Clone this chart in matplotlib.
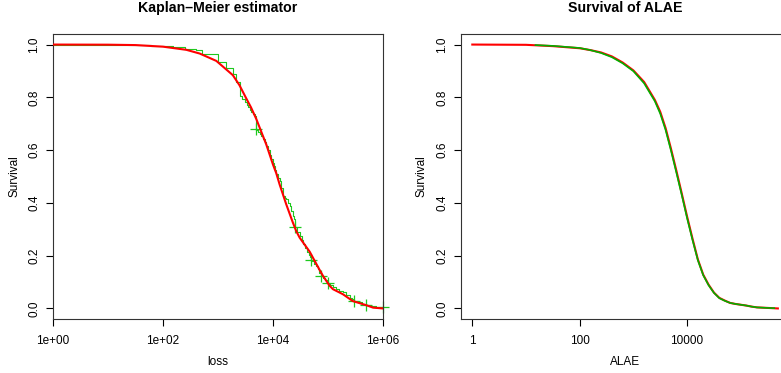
import matplotlib
matplotlib.use("Agg")
import matplotlib.pyplot as plt
import numpy as np

plt.rcParams['font.family'] = ['Liberation Sans', 'DejaVu Sans']

# ---- Left panel: Kaplan-Meier estimator of loss ----
km_time = [1, 10, 30, 60, 100, 150, 250, 400, 512, 1000, 1420, 1870, 2100, 2480,
           2750, 3050, 3300, 3510, 3800, 4050, 4400, 4700, 5000, 5400, 5800, 6150,
           6600, 7100, 7590, 8100, 8700, 9350, 9900, 10430, 11000, 11530, 12400,
           13240, 14200, 15200, 16300, 17530, 18800, 20140, 21600, 23100, 24000,
           25000, 27500, 30570, 33000, 35100, 38500, 42000, 45000, 47000, 50000,
           55000, 61500, 66000, 70000, 75000, 82000, 90000, 100000, 110000,
           123000, 140000, 160000, 187000, 215000, 250000, 275000, 300000,
           350000, 420000, 500000, 600000, 760000, 1000000]
km_surv = [1.0, 0.999, 0.998, 0.996, 0.994, 0.990, 0.985, 0.980, 0.965, 0.935,
           0.913, 0.888, 0.857, 0.806, 0.795, 0.781, 0.770, 0.762, 0.752, 0.743,
           0.736, 0.730, 0.675, 0.668, 0.661, 0.654, 0.642, 0.630, 0.616, 0.600,
           0.583, 0.566, 0.553, 0.540, 0.525, 0.509, 0.496, 0.483, 0.455, 0.427,
           0.420, 0.414, 0.401, 0.389, 0.370, 0.351, 0.340, 0.307, 0.291, 0.275,
           0.258, 0.245, 0.230, 0.215, 0.203, 0.195, 0.180, 0.170, 0.161, 0.148,
           0.136, 0.124, 0.114, 0.106, 0.098, 0.088, 0.080, 0.073, 0.067, 0.061,
           0.050, 0.040, 0.034, 0.029, 0.024, 0.018, 0.0125, 0.008, 0.004, 0.004]
cens_time = [5000, 25000, 50000, 75000, 100000, 300000, 500000, 1000000]
cens_surv = [0.679, 0.307, 0.183, 0.124, 0.098, 0.029, 0.0125, 0.005]

fit_loss = [1, 10, 31.6, 100, 266, 464, 933, 1862, 2455, 3281, 3981, 4989, 7586,
            10000, 11482, 13183, 17378, 22909, 26607, 30549, 46452, 70795, 81283,
            107152, 123027, 186209, 281838, 501187, 660693, 1000000]
fit_loss_surv = [1.0, 0.9995, 0.998, 0.992, 0.980, 0.966, 0.938, 0.884, 0.846,
                 0.795, 0.762, 0.717, 0.620, 0.545, 0.512, 0.470, 0.395, 0.326,
                 0.292, 0.268, 0.215, 0.145, 0.123, 0.086, 0.073, 0.054, 0.028,
                 0.012, 0.003, 0.0]

# ---- Right panel: Survival of ALAE ----
alae_fit_x = [1, 10, 31.6, 100, 158, 251, 398, 631, 1000, 1585, 2512, 3162, 3981,
              5012, 6310, 7943, 10000, 12589, 15849, 19953, 25119, 31623, 39811,
              50119, 63096, 79433, 100000, 125893, 158489, 199526, 316228, 489779]
alae_fit_s = [1.0, 0.999, 0.994, 0.986, 0.979, 0.970, 0.955, 0.932, 0.902, 0.858,
              0.790, 0.745, 0.683, 0.605, 0.522, 0.436, 0.348, 0.265, 0.186,
              0.128, 0.090, 0.060, 0.040, 0.030, 0.021, 0.017, 0.014, 0.011,
              0.007, 0.004, 0.002, 0.0]
alae_emp_x = [15, 31.6, 100, 158, 251, 398, 631, 1000, 1585, 2512, 3162, 3981,
              5012, 6310, 7943, 10000, 12589, 15849, 19953, 25119, 31623, 39811,
              50119, 63096, 79433, 100000, 125893, 158489, 199526, 316228, 420000]
alae_emp_s = [0.998, 0.995, 0.987, 0.979, 0.968, 0.952, 0.929, 0.899, 0.853,
              0.785, 0.738, 0.676, 0.598, 0.515, 0.430, 0.342, 0.260, 0.183,
              0.126, 0.088, 0.059, 0.039, 0.029, 0.021, 0.017, 0.014, 0.011,
              0.007, 0.004, 0.002, 0.001]

left_ticks = [1, 100, 10000, 1000000]
left_ticklabels = ["1e+00", "1e+02", "1e+04", "1e+06"]
right_ticks = [1, 100, 10000]
right_ticklabels = ["1", "100", "10000"]
y_ticks = [0.0, 0.2, 0.4, 0.6, 0.8, 1.0]
y_ticklabels = ["0.0", "0.2", "0.4", "0.6", "0.8", "1.0"]

GREEN = '#1ec81e'
RED = '#ff0000'
FS = 8.5

fig = plt.figure(figsize=(7.81, 3.73), dpi=100)
axL = fig.add_axes([53/781, 54/373, 330/781, 285/373])
axR = fig.add_axes([460.5/781, 54/373, 329.5/781, 285/373])


def style(ax, xt, xtl, title, xlabel):
    ax.set_xscale('log')
    ax.set_ylim(-0.04, 1.04)
    ax.set_xticks(xt)
    ax.set_xticklabels(xtl)
    ax.minorticks_off()
    ax.set_yticks(y_ticks)
    ax.set_yticklabels(y_ticklabels, rotation=90, va='center')
    ax.tick_params(axis='both', length=5, width=0.8, labelsize=FS, color='black')
    ax.tick_params(axis='x', pad=6.5)
    ax.tick_params(axis='y', pad=4)
    for s in ax.spines.values():
        s.set_linewidth(0.8)
        s.set_color('#333333')
    ax.set_title(title, fontsize=10.2, fontweight='bold', y=1.063, va='center')
    ax.set_xlabel(xlabel, fontsize=FS, va='center')
    ax.xaxis.set_label_coords(0.5, -(362 - 319) / 285)
    ax.set_ylabel("Survival", fontsize=FS, va='center')
    ax.yaxis.set_label_coords(-(53 - 14) / 330, 0.5)


# Left
axL.step(km_time, km_surv, where='post', color=GREEN, lw=0.8, zorder=2)
axL.plot(cens_time, cens_surv, ls='none', marker='+', ms=8, mew=0.9,
         color=GREEN, zorder=2, clip_on=False)
axL.plot(fit_loss, fit_loss_surv, color=RED, lw=1.5, zorder=3)
axL.set_xlim(1, 1e6)
style(axL, left_ticks, left_ticklabels, "Kaplan–Meier estimator", "loss")

# Right
axR.plot(alae_fit_x, alae_fit_s, color=RED, lw=1.5, zorder=2)
axR.plot(alae_emp_x, alae_emp_s, color='#00b000', lw=1.2, zorder=3)
axR.set_xlim(10 ** -0.2197, 10 ** 5.916)
style(axR, right_ticks, right_ticklabels, "Survival of ALAE", "ALAE")
axR.yaxis.set_label_coords(-(460.5 - 421.7) / 329.5, 0.5)

fig.savefig("out.png", dpi=100)
